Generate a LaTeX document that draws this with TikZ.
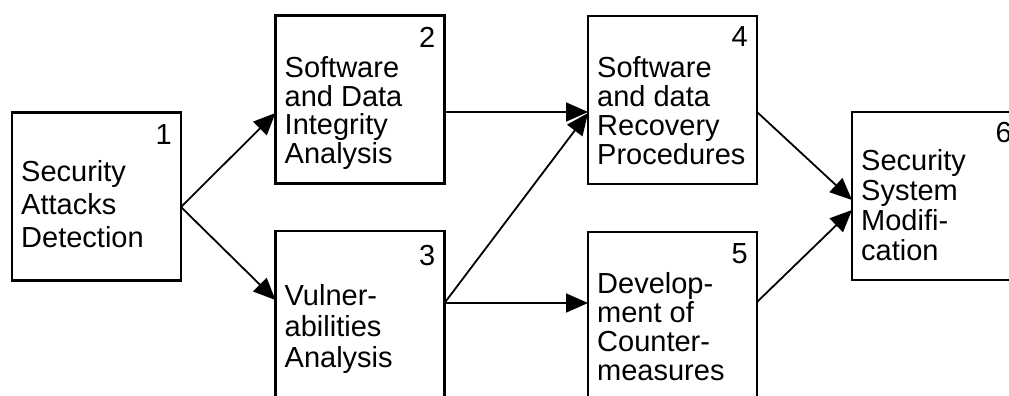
\documentclass[tikz,border=0pt]{standalone}
\usepackage{fontspec}
\setmainfont{Liberation Sans}
\usetikzlibrary{arrows.meta}
\begin{document}
\begin{tikzpicture}[x=1pt,y=-1pt,
    box/.style={draw, line width=2.2pt, minimum width=169pt, minimum height=168pt, inner sep=0pt, outer sep=0pt},
    num/.style={anchor=base east, inner sep=0pt, font=\fontsize{29}{33}\selectfont},
    txt/.style={anchor=north west, align=left, inner sep=0pt, font=\fontsize{29}{#1}\selectfont},
    flow/.style={line width=1.8pt, -{Triangle[length=22pt,width=19pt]}}]
    \clip (0,0) rectangle (1009,396);
    % boxes
    \node[box] (b1) at (96.5,196.5) {};
    \node[box] (b2) at (360,99.5) {};
    \node[box] (b3) at (360,315) {};
    \node[box] (b4) at (672.5,100) {};
    \node[box] (b5) at (672.5,316) {};
    \node[box] (b6) at (936.5,196) {};
    % numbers
    \node[num] (n1) at ([xshift=-9pt,yshift=-32pt]b1.north east) {1};
    \node[num] (n2) at ([xshift=-9pt,yshift=-32pt]b2.north east) {2};
    \node[num] (n3) at ([xshift=-9pt,yshift=-34pt]b3.north east) {3};
    \node[num] (n4) at ([xshift=-9pt,yshift=-31pt]b4.north east) {4};
    \node[num] (n5) at ([xshift=-9pt,yshift=-31pt]b5.north east) {5};
    \node[num] (n6) at ([xshift=-9pt,yshift=-30pt]b6.north east) {6};
    % texts
    \node[txt=33] (t1) at ([xshift=9pt,yshift=-48pt]b1.north west) {Security\\Attacks\\Detection};
    \node[txt=28.5] (t2) at ([xshift=9pt,yshift=-41pt]b2.north west) {Software\\and Data\\Integrity\\Analysis};
    \node[txt=31] (t3) at ([xshift=9pt,yshift=-53pt]b3.north west) {Vulner-\\abilities\\Analysis};
    \node[txt=29] (t4) at ([xshift=9pt,yshift=-40pt]b4.north west) {Software\\and data\\Recovery\\Procedures};
    \node[txt=29] (t5) at ([xshift=9pt,yshift=-40pt]b5.north west) {Develop-\\ment of\\Counter-\\measures};
    \node[txt=30] (t6) at ([xshift=9pt,yshift=-37pt]b6.north west) {Security\\System\\Modifi-\\cation};
    % arrows
    \draw[flow] ([yshift=-10.5pt]b1.east) -- ([yshift=-13.5pt]b2.west);
    \draw[flow] ([yshift=-10.5pt]b1.east) -- ([yshift=15pt]b3.west);
    \draw[flow] ([yshift=-12.5pt]b2.east) -- ([yshift=-12pt]b4.west);
    \draw[flow] ([yshift=12pt]b3.east) -- ([yshift=-13pt]b4.west);
    \draw[flow] ([yshift=12pt]b3.east) -- ([yshift=13pt]b5.west);
    \draw[flow] ([yshift=-12pt]b4.east) -- ([yshift=-4pt]b6.west);
    \draw[flow] ([yshift=14pt]b5.east) -- ([yshift=-14pt]b6.west);
\end{tikzpicture}
\end{document}
